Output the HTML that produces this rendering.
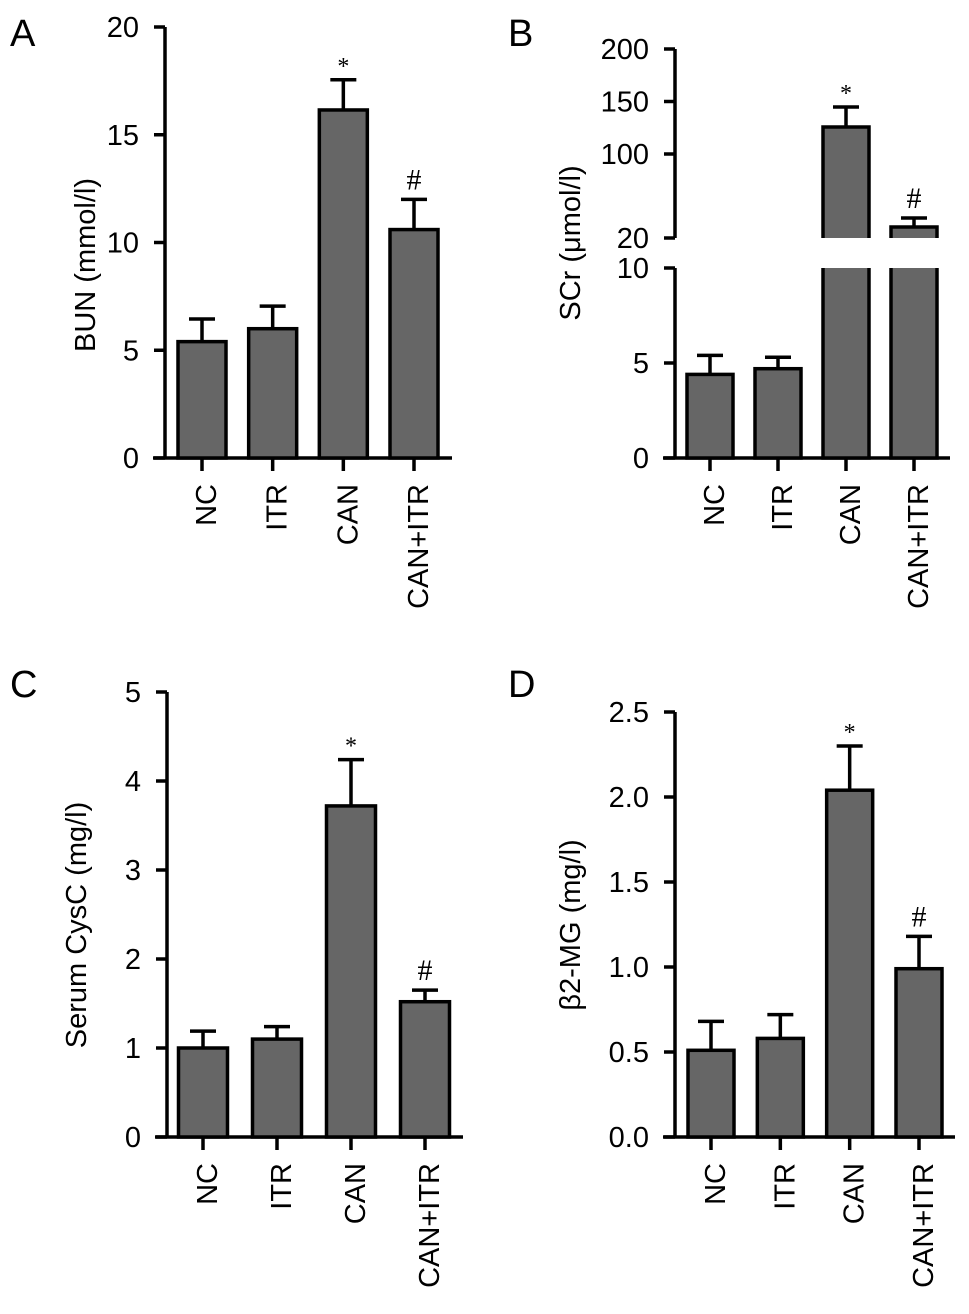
<!DOCTYPE html>
<html><head><meta charset="utf-8"><style>
body{margin:0;background:#fff}
svg{display:block;font-family:"Liberation Sans",sans-serif}
</style></head><body>
<svg id="c" width="969" height="1314" viewBox="0 0 969 1314"></svg>
<script>
const categories=["NC","ITR","CAN","CAN+ITR"];
const bunValues=[5.4,6.0,16.15,10.6];
const bunErrors=[6.45,7.05,17.55,12.0];
const scrValues=[4.4,4.7,125.7,30.5];
const scrErrors=[5.4,5.3,144.8,39];
const cysValues=[1.0,1.1,3.72,1.52];
const cysErrors=[1.19,1.24,4.24,1.65];
const b2mValues=[0.51,0.58,2.04,0.99];
const b2mErrors=[0.68,0.72,2.30,1.18];
const bunTicks=["0","5","10","15","20"];
const scrLowTicks=["0","5","10"];
const scrHighTicks=["20","100","150","200"];
const cysTicks=["0","1","2","3","4","5"];
const b2mTicks=["0.0","0.5","1.0","1.5","2.0","2.5"];
const marks=["","","*","#"];

const NS="http://www.w3.org/2000/svg";
const svg=document.getElementById('c');
function mk(tag,attrs,parent,text){const e=document.createElementNS(NS,tag);for(const k in attrs)e.setAttribute(k,attrs[k]);if(text!==undefined)e.textContent=text;(parent||svg).appendChild(e);return e;}

function panel(o){
  const g=mk('g',{});
  
  
  const t=mk('text',{x:o.letterX,y:o.letterY,'font-size':38},g,o.letter);
  
  
  const yt=mk('text',{x:0,y:0,'font-size':29,'text-anchor':'middle',transform:`translate(${o.titleX},${o.titleY}) rotate(-90)`},g,o.title);
  
  
  const axis=mk('g',{stroke:'#000','stroke-width':3.5,fill:'none'},g);
  
  
  o.segments.forEach(s=>{
    mk('line',{x1:o.ax,x2:o.ax,y1:s.y(s.max),y2:s.y(s.min)},axis);
    s.ticks.forEach(tk=>{
      const yy=s.y(parseFloat(tk));
      mk('line',{x1:o.ax-11,x2:o.ax,y1:yy,y2:yy},axis);
      const tl=mk('text',{x:o.ax-26,y:yy+10,'font-size':29,'text-anchor':'end',stroke:'none',fill:'#000'},g,tk);
      
      
    });
  });
  const y0=o.segments[0].y(0);
  mk('line',{x1:o.ax-12,x2:o.xEnd,y1:y0,y2:y0},axis);
  const step=(o.lastX-o.firstX)/(categories.length-1);
  categories.forEach((c,i)=>{
    const cx=o.firstX+i*step, w=o.bw;
    mk('line',{x1:cx,x2:cx,y1:y0,y2:y0+13},axis);
    const v=o.values[i], e=o.errors[i];
    const bar=mk('g',{},g);
    
    
    let topY;
    if(o.segments.length===1||v<=o.segments[0].max){
      const s=o.segments[0]; topY=s.y(v);
      mk('rect',{x:cx-w/2,y:topY,width:w,height:y0-topY,fill:'#666',stroke:'#000','stroke-width':3.5},bar);
    } else {
      const lo=o.segments[0], hi=o.segments[1];
      const lt=lo.y(lo.max);
      mk('rect',{x:cx-w/2,y:lt,width:w,height:y0-lt,fill:'#666',stroke:'none'},bar);
      mk('path',{d:`M${cx-w/2},${lt}V${y0}H${cx+w/2}V${lt}`,fill:'none',stroke:'#000','stroke-width':3.5},bar);
      topY=hi.y(v); const hb=hi.y(hi.min);
      mk('rect',{x:cx-w/2,y:topY,width:w,height:hb-topY,fill:'#666',stroke:'none'},bar);
      mk('path',{d:`M${cx-w/2},${hb}V${topY}H${cx+w/2}V${hb}`,fill:'none',stroke:'#000','stroke-width':3.5},bar);
    }
    const seg=(o.segments.length>1&&v>o.segments[0].max)?o.segments[1]:o.segments[0];
    const ey=seg.y(e);
    mk('line',{x1:cx,x2:cx,y1:topY,y2:ey,stroke:'#000','stroke-width':3.5},bar);
    mk('line',{x1:cx-13,x2:cx+13,y1:ey,y2:ey,stroke:'#000','stroke-width':3.5},bar);
    if(marks[i]){
      const m=mk('text',{x:cx,y:marks[i]==='*'?ey-6:ey-10,'font-size':marks[i]==='*'?24:30,'font-family':'Liberation Serif, serif','text-anchor':'middle'},g,marks[i]);
      
      
    }
    const xl=mk('text',{x:0,y:0,'font-size':29,'text-anchor':'end',transform:`translate(${cx+14},${y0+26}) rotate(-90)`},g,c);
    
    
  });
}
function lin(d0,d1,p0,p1){return v=>p0+(v-d0)*(p1-p0)/(d1-d0);}

panel({name:'panel-a-bun',letter:'A',letterX:10,letterY:46,title:'BUN (mmol/l)',titleX:95,titleY:265,ax:165,xEnd:452,firstX:202,lastX:414,bw:48,
  values:bunValues,errors:bunErrors,segments:[{min:0,max:20,ticks:bunTicks,y:lin(0,20,458,27)}]});
panel({name:'panel-b-scr',letter:'B',letterX:508,letterY:46,title:'SCr (μmol/l)',titleX:580,titleY:243,ax:675,xEnd:950,firstX:710,lastX:914,bw:46,
  values:scrValues,errors:scrErrors,segments:[{min:0,max:10,ticks:scrLowTicks,y:lin(0,10,458,268)},{min:20,max:200,ticks:scrHighTicks,y:lin(20,200,238,49)}]});
panel({name:'panel-c-cysc',letter:'C',letterX:10,letterY:697,title:'Serum CysC (mg/l)',titleX:86,titleY:925,ax:167,xEnd:463,firstX:203,lastX:425,bw:49,
  values:cysValues,errors:cysErrors,segments:[{min:0,max:5,ticks:cysTicks,y:lin(0,5,1137,692)}]});
panel({name:'panel-d-b2mg',letter:'D',letterX:508,letterY:697,title:'β2-MG (mg/l)',titleX:580,titleY:925,ax:675,xEnd:955,firstX:711,lastX:919,bw:46,
  values:b2mValues,errors:b2mErrors,segments:[{min:0,max:2.5,ticks:b2mTicks,y:lin(0,2.5,1137,712)}]});
</script>
</body></html>
